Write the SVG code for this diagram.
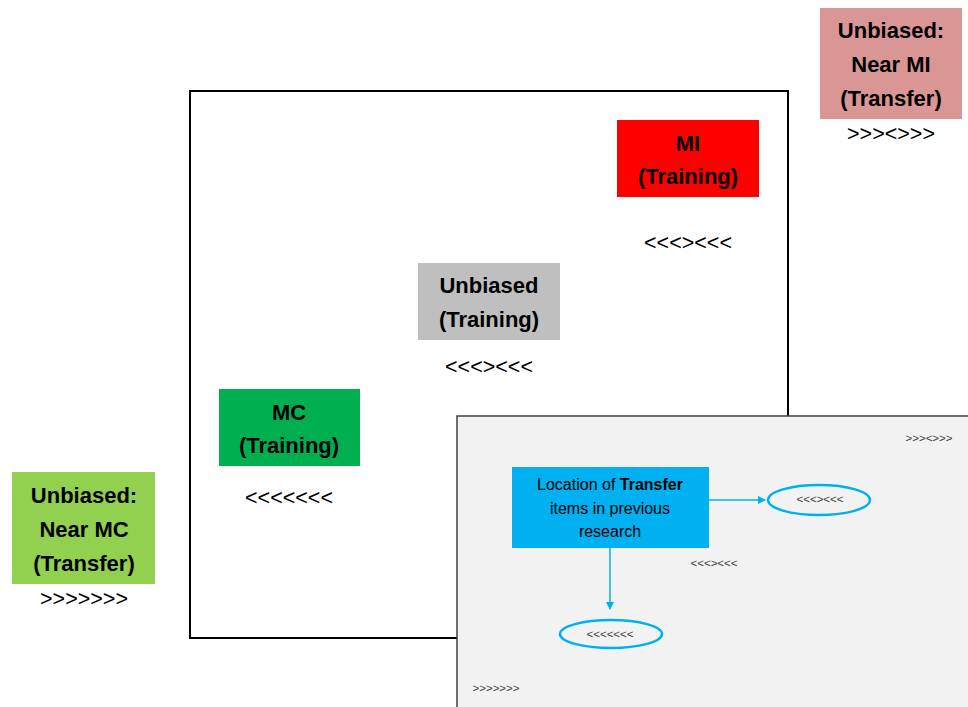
<svg xmlns="http://www.w3.org/2000/svg" width="968" height="707" viewBox="0 0 968 707">
<style>
.lbl{font-family:"Liberation Sans",Arial,sans-serif;font-weight:bold;font-size:22px;fill:#000;text-anchor:middle}
.chev{font-family:"Liberation Sans",Arial,sans-serif;font-size:21.5px;fill:#000;text-anchor:middle}
.sm{font-family:"Liberation Sans",Arial,sans-serif;font-size:11.5px;fill:#404040;text-anchor:middle}
.blue{font-family:"Liberation Sans",Arial,sans-serif;font-size:16px;fill:#000;text-anchor:middle}
.ell{fill:none;stroke:#00b0f0;stroke-width:2.5}
.conn{stroke:#00b0f0;stroke-width:1.5;fill:none}
</style>
<defs>
<marker id="ah" markerWidth="8" markerHeight="8" refX="7" refY="4" orient="auto" markerUnits="userSpaceOnUse">
<path d="M0,0 L8,4 L0,8 Z" fill="#00b0f0"/>
</marker>
</defs>
<rect width="968" height="707" fill="#fff"/>
<g id="frame">
<rect x="190" y="91" width="598" height="547" fill="#fff" stroke="#000" stroke-width="2"/>
</g>
<g id="mi-training">
<rect x="617" y="120" width="142" height="77" fill="#ff0000"/>
<text class="lbl" x="688" y="151">MI</text>
<text class="lbl" x="688" y="184">(Training)</text>
<text class="chev" x="688" y="250">&lt;&lt;&lt;&gt;&lt;&lt;&lt;</text>
</g>
<g id="unbiased-training">
<rect x="418" y="263" width="142" height="77" fill="#bfbfbf"/>
<text class="lbl" x="489" y="293">Unbiased</text>
<text class="lbl" x="489" y="327">(Training)</text>
<text class="chev" x="489" y="374">&lt;&lt;&lt;&gt;&lt;&lt;&lt;</text>
</g>
<g id="mc-training">
<rect x="219" y="389" width="141" height="77" fill="#00b050"/>
<text class="lbl" x="289" y="420">MC</text>
<text class="lbl" x="289" y="453">(Training)</text>
<text class="chev" x="289" y="505">&lt;&lt;&lt;&lt;&lt;&lt;&lt;</text>
</g>
<g id="near-mi">
<rect x="820" y="8" width="142" height="111" fill="#da9694"/>
<text class="lbl" x="891" y="38">Unbiased:</text>
<text class="lbl" x="891" y="72">Near MI</text>
<text class="lbl" x="891" y="106">(Transfer)</text>
<text class="chev" x="891" y="141">&gt;&gt;&gt;&lt;&gt;&gt;&gt;</text>
</g>
<g id="near-mc">
<rect x="12" y="472" width="143" height="112" fill="#92d050"/>
<text class="lbl" x="84" y="503">Unbiased:</text>
<text class="lbl" x="84" y="537">Near MC</text>
<text class="lbl" x="84" y="571">(Transfer)</text>
<text class="chev" x="84" y="606">&gt;&gt;&gt;&gt;&gt;&gt;&gt;</text>
</g>
<g id="inset">
<rect x="457" y="416" width="515" height="295" fill="#f2f2f2" stroke="#404040" stroke-width="1.5"/>
<text class="sm" x="929" y="442">&gt;&gt;&gt;&lt;&gt;&gt;&gt;</text>
<text class="sm" x="714" y="567">&lt;&lt;&lt;&gt;&lt;&lt;&lt;</text>
<text class="sm" x="496" y="692">&gt;&gt;&gt;&gt;&gt;&gt;&gt;</text>
</g>
<g id="location">
<rect x="512" y="467" width="197" height="81" fill="#00b0f0"/>
<text class="blue" x="610" y="490">Location of <tspan font-weight="bold">Transfer</tspan></text>
<text class="blue" x="610" y="514">items in previous</text>
<text class="blue" x="610" y="537">research</text>
</g>
<g id="ellipse-right">
<ellipse class="ell" cx="819" cy="500" rx="51" ry="15"/>
<text class="sm" x="820" y="503">&lt;&lt;&lt;&gt;&lt;&lt;&lt;</text>
</g>
<g id="ellipse-bottom">
<ellipse class="ell" cx="611" cy="634" rx="51" ry="14"/>
<text class="sm" x="610" y="638">&lt;&lt;&lt;&lt;&lt;&lt;&lt;</text>
</g>
<g id="connectors">
<line class="conn" x1="709" y1="500" x2="765" y2="500" marker-end="url(#ah)"/>
<line class="conn" x1="610" y1="548" x2="610" y2="609" marker-end="url(#ah)"/>
</g>
</svg>
